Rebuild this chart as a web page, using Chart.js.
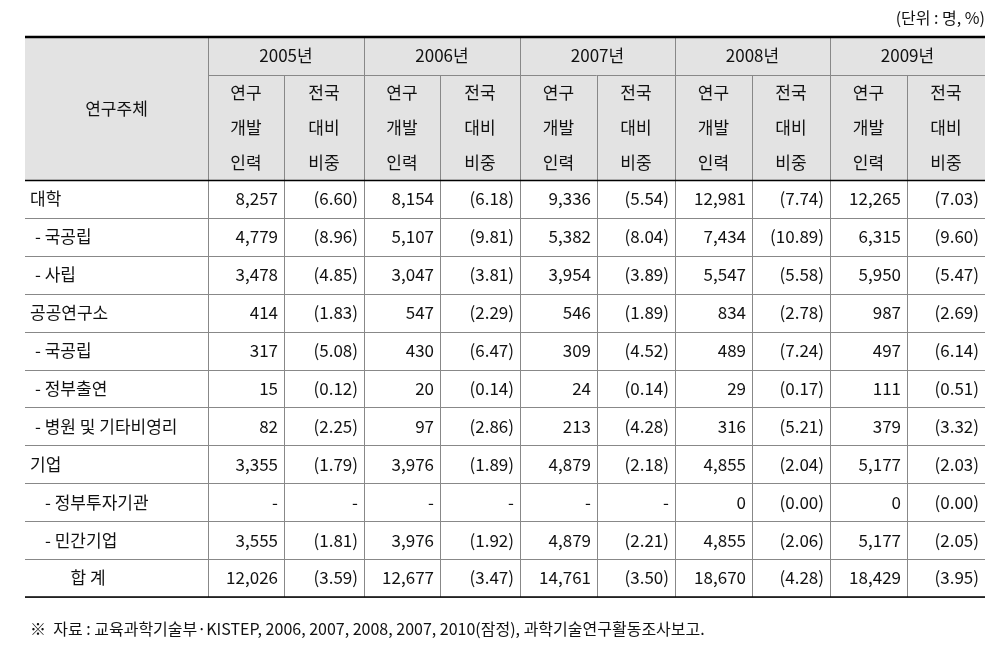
<!DOCTYPE html>
<html><head><meta charset="utf-8">
<script src="https://cdn.jsdelivr.net/npm/chart.js@4"></script>
<style>body{margin:0;background:#fff}#w{width:1008px;height:658px}</style>
</head><body><div id="w"><canvas id="c"></canvas></div>
<script>
const years = ['2005년','2006년','2007년','2008년','2009년'];
const rowLabels = ['대학','- 국공립','- 사립','공공연구소','- 국공립','- 정부출연','- 병원 및 기타비영리','기업','- 정부투자기관','- 민간기업','합 계'];
const staff = [
 ['8,257','8,154','9,336','12,981','12,265'],
 ['4,779','5,107','5,382','7,434','6,315'],
 ['3,478','3,047','3,954','5,547','5,950'],
 ['414','547','546','834','987'],
 ['317','430','309','489','497'],
 ['15','20','24','29','111'],
 ['82','97','213','316','379'],
 ['3,355','3,976','4,879','4,855','5,177'],
 ['-','-','-','0','0'],
 ['3,555','3,976','4,879','4,855','5,177'],
 ['12,026','12,677','14,761','18,670','18,429']];
const share = [
 ['(6.60)','(6.18)','(5.54)','(7.74)','(7.03)'],
 ['(8.96)','(9.81)','(8.04)','(10.89)','(9.60)'],
 ['(4.85)','(3.81)','(3.89)','(5.58)','(5.47)'],
 ['(1.83)','(2.29)','(1.89)','(2.78)','(2.69)'],
 ['(5.08)','(6.47)','(4.52)','(7.24)','(6.14)'],
 ['(0.12)','(0.14)','(0.14)','(0.17)','(0.51)'],
 ['(2.25)','(2.86)','(4.28)','(5.21)','(3.32)'],
 ['(1.79)','(1.89)','(2.18)','(2.04)','(2.03)'],
 ['-','-','-','(0.00)','(0.00)'],
 ['(1.81)','(1.92)','(2.21)','(2.06)','(2.05)'],
 ['(3.59)','(3.47)','(3.50)','(4.28)','(3.95)']];
const unitText = '(단위 : 명, %)';
const sourceText = '※  자료 : 교육과학기술부·KISTEP, 2006, 2007, 2008, 2007, 2010(잠정), 과학기술연구활동조사보고.';

// layout (table units = px inside chart area)
const colEdges = [0,183,259,339,415,495,572,650,727,805,882,960];
const indent = [5,10,10,5,10,10,10,5,20,20,0];
const hdr1 = 38, hdr2 = 143, rowH = (560-143)/11;

const tablePlugin = {
 id:'table',
 afterDraw(chart){
  const ctx = chart.ctx, xs = chart.scales.x, ys = chart.scales.y;
  const X = v=>xs.getPixelForValue(v), Y = v=>ys.getPixelForValue(v);
  const font = '17px "Noto Sans CJK KR", "Noto Sans", sans-serif';
  ctx.save();
  ctx.fillStyle = '#e3e3e3';
  ctx.fillRect(X(0),Y(0),X(960)-X(0),Y(hdr2)-Y(0));
  ctx.strokeStyle = '#888'; ctx.lineWidth = 1;
  const hl=(y,x0,x1)=>{ctx.beginPath();ctx.moveTo(X(x0),Math.round(Y(y))+0.5);ctx.lineTo(X(x1),Math.round(Y(y))+0.5);ctx.stroke();};
  const vl=(x,y0,y1)=>{ctx.beginPath();ctx.moveTo(Math.round(X(x))+0.5,Y(y0));ctx.lineTo(Math.round(X(x))+0.5,Y(y1));ctx.stroke();};
  hl(hdr1,colEdges[1],960);
  for(let i=1;i<=11;i++) hl(hdr2+i*rowH,0,960);
  for(let i=1;i<colEdges.length-1;i++) vl(colEdges[i], (i%2===0)?hdr1:0, 560);
  ctx.strokeStyle='#000';ctx.lineWidth=1.5; hl(hdr2,0,960);
  ctx.lineWidth=2.5; ctx.beginPath();ctx.moveTo(X(0),Y(0));ctx.lineTo(X(960),Y(0));ctx.stroke();
  ctx.lineWidth=1.5; ctx.beginPath();ctx.moveTo(X(0),Y(560));ctx.lineTo(X(960),Y(560));ctx.stroke();
  ctx.fillStyle='#111'; ctx.font=font; ctx.textBaseline='middle';
  ctx.textAlign='center';
  ctx.fillText('연구주체',X(colEdges[1]/2),Y(hdr2/2));
  years.forEach((yr,i)=>ctx.fillText(yr,X((colEdges[1+2*i]+colEdges[3+2*i])/2),Y(hdr1/2)));
  const h2a=['연구','개발','인력'], h2b=['전국','대비','비중'];
  for(let i=0;i<5;i++){
   for(let k=0;k<3;k++){
    const yy=Y(hdr1+(hdr2-hdr1)*(k+0.5)/3);
    ctx.fillText(h2a[k],X((colEdges[1+2*i]+colEdges[2+2*i])/2),yy);
    ctx.fillText(h2b[k],X((colEdges[2+2*i]+colEdges[3+2*i])/2),yy);
   }
  }
  rowLabels.forEach((lab,r)=>{
   const yy=Y(hdr2+(r+0.5)*rowH);
   if(r===10){ctx.textAlign='center';ctx.fillText(lab,X(63),yy);}
   else{ctx.textAlign='left';ctx.fillText(lab,X(indent[r]),yy);}
   ctx.textAlign='right';
   for(let i=0;i<5;i++){
    ctx.fillText(staff[r][i],X(colEdges[2+2*i])-6,yy);
    ctx.fillText(share[r][i],X(colEdges[3+2*i])-6,yy);
   }
  });
  ctx.textAlign='right';ctx.font='16px "Noto Sans CJK KR", sans-serif';
  ctx.fillText(unitText,X(960),Y(0)-19);
  ctx.textAlign='left';
  ctx.fillText(sourceText,X(5),Y(560)+32);
  ctx.restore();
 }
};
new Chart(document.getElementById('c'),{
 type:'scatter',
 data:{datasets:[{data:[]}]},
 options:{responsive:true,maintainAspectRatio:false,animation:false,
  layout:{padding:{left:25,right:23,top:37,bottom:61}},
  plugins:{legend:{display:false},tooltip:{enabled:false}},
  scales:{x:{type:'linear',min:0,max:960,display:false},y:{type:'linear',min:0,max:560,reverse:true,display:false}}},
 plugins:[tablePlugin]
});
</script></body></html>
